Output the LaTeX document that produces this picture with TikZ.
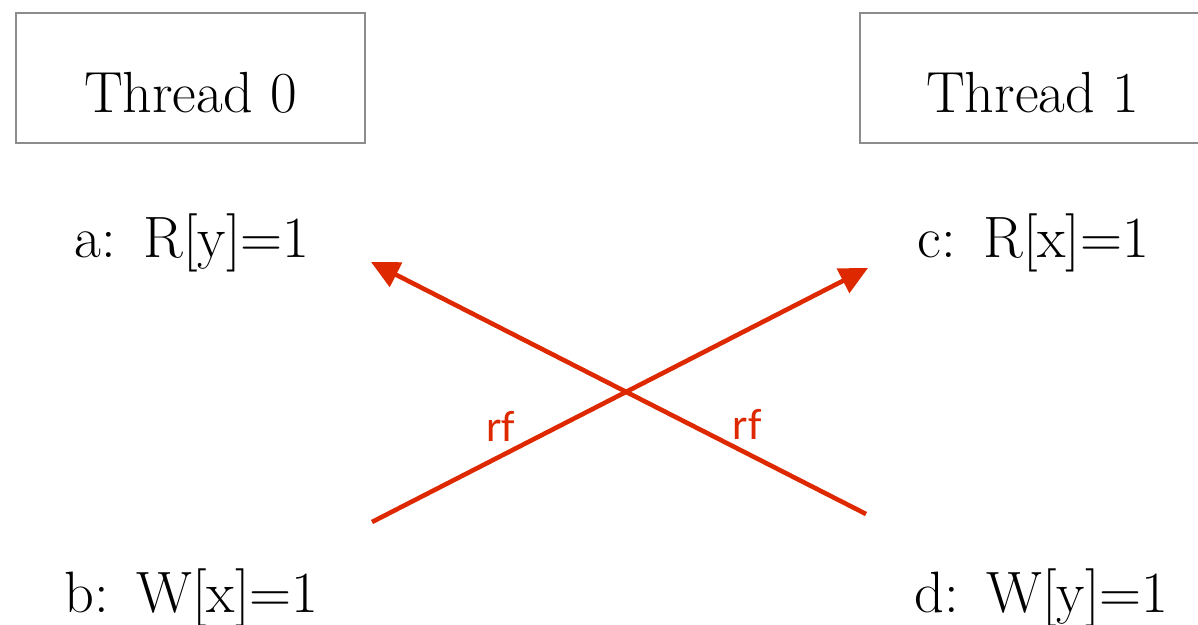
\documentclass[tikz,border=0pt]{standalone}
\usepackage{fontspec}
\newfontfamily\rffont{Carlito}
\usetikzlibrary{arrows.meta,calc}
\definecolor{rfred}{RGB}{222,41,0}
\definecolor{boxgray}{RGB}{140,140,140}

\begin{document}
\begin{tikzpicture}[
    x=0.01cm, y=-0.01cm,
    >={Triangle[length=8pt,width=7.6pt]},
    threadbox/.style={draw=boxgray, line width=0.75pt, inner sep=0pt,
      text height=0.99cm, text depth=0.31cm, font=\fontsize{16.5}{19}\selectfont},
    event/.style={inner sep=0pt, anchor=base west, font=\fontsize{16.6}{19}\selectfont},
    rf/.style={->, rfred, line width=1.3pt},
    rflabel/.style={font=\rffont\fontsize{12.5}{15}\selectfont, text=rfred},
  ]
  \useasboundingbox (0,0) rectangle (1198,625);
  \clip (0,0) rectangle (1198,625);

  % threads
  \node[threadbox, minimum width=3.49cm] (t0) at (190.5,78) {Thread 0};
  \node[threadbox, minimum width=3.45cm] (t1) at (1032.5,78) {Thread 1};

  % events of thread 0
  \node[event] (a) at (74,258) {a:\ \,R[y]=1};
  \node[event] (b) at (64,612) {b:\ \,W[x]=1};

  % events of thread 1
  \node[event] (c) at (917,258) {c:\ \,R[x]=1};
  \node[event] (d) at (914,612) {d:\ \,W[y]=1};

  % reads-from edges
  \coordinate (b-out) at ($(b.base west)+(308,-90)$);
  \coordinate (c-in) at ($(c.base west)+(-49,10)$);
  \coordinate (d-out) at ($(d.base west)+(-48,-98)$);
  \coordinate (a-in) at ($(a.base west)+(297,4)$);

  \draw[rf] (b-out) -- node[rflabel, pos=0.26, above] {rf} (c-in);
  \draw[rf] (d-out) -- node[rflabel, pos=0.24, above] {rf} (a-in);
\end{tikzpicture}
\end{document}
